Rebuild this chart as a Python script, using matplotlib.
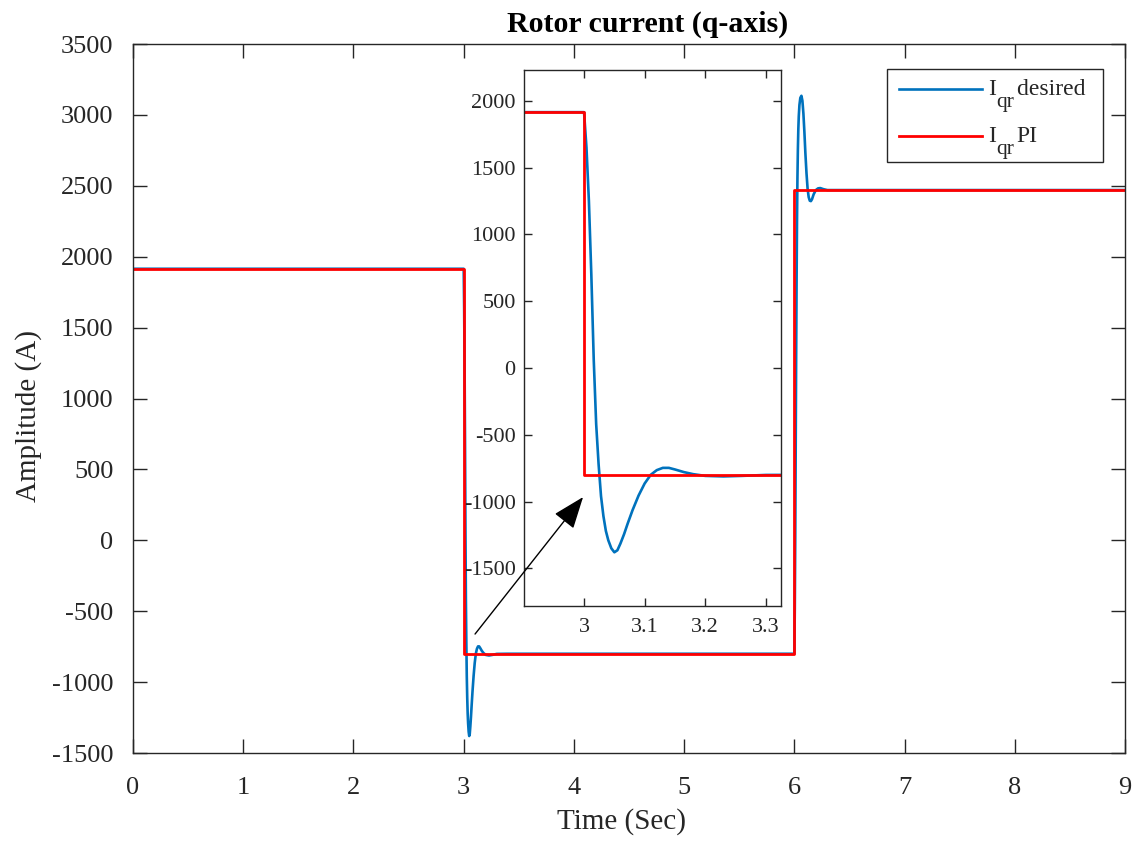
import matplotlib
matplotlib.use('Agg')
import matplotlib.pyplot as plt
from matplotlib.transforms import IdentityTransform
import numpy as np

plt.rcParams['font.family'] = ['Liberation Serif', 'DejaVu Serif']
plt.rcParams['axes.unicode_minus'] = False

# reference (PI) current : steps at 3 s and 6 s
t_pi = [0, 3.0, 3.0, 6.0, 6.0, 9.0]
i_pi = [1915, 1915, -800, -800, 2470, 2470]

# desired current (transients at 3 s and 6 s)
t_des = [0, 3.000, 3.004, 3.008, 3.012, 3.016, 3.020, 3.024, 3.028, 3.032,
         3.036, 3.040, 3.045, 3.050, 3.055, 3.060, 3.066, 3.072, 3.080,
         3.090, 3.100, 3.110, 3.120, 3.130, 3.140, 3.150, 3.165, 3.180,
         3.200, 3.230, 3.260, 3.300, 3.400,
         6.000, 6.004, 6.008, 6.012, 6.016, 6.020, 6.024, 6.028, 6.032,
         6.036, 6.040, 6.046, 6.054, 6.064, 6.073, 6.082, 6.091, 6.100,
         6.110, 6.120, 6.130, 6.140, 6.150, 6.160, 6.175, 6.195, 6.215,
         6.235, 6.265, 6.300, 9.000]
i_des = [1915, 1915, 1650, 1250, 700, 60, -420, -720, -960, -1110,
         -1220, -1290, -1350, -1380, -1365, -1315, -1245, -1165, -1065,
         -955, -865, -800, -765, -748, -748, -760, -780, -795,
         -808, -812, -808, -801, -800,
         -800, -480, 0, 620, 1250, 1800, 2250, 2560, 2760,
         2900, 2990, 3070, 3120, 3135, 3100, 3010, 2880, 2730,
         2590, 2480, 2420, 2395, 2392, 2405, 2440, 2470, 2482,
         2484, 2476, 2470, 2470]

# legend labels: main letter, subscript, rest
leg_main = ['I', 'I']
leg_sub = ['qr', 'qr']
leg_rest = ['desired', 'PI']

blue = '#0072BD'
red = '#FF0000'
edge = '#262626'

fig = plt.figure(figsize=(11.38, 8.48), dpi=100)
ax = fig.add_axes([0.1169, 0.1120, 0.8717, 0.8361])

ax.plot(t_des, i_des, color=blue, lw=1.9, label=leg_rest[0] + ' ')
ax.plot(t_pi, i_pi, color=red, lw=2.0, label=leg_rest[1])

ax.set_xlim(0, 9)
ax.set_ylim(-1500, 3500)
ax.set_xticks(np.arange(0, 10, 1))
ax.set_yticks(np.arange(-1500, 3501, 500))
ax.tick_params(direction='in', length=10, width=1, top=True, right=True,
               labelsize=19, colors=edge, pad=17)
ax.tick_params(axis='y', pad=14)
for s in ax.spines.values():
    s.set_color(edge)
    s.set_linewidth(1)

ax.set_title('Rotor current (q-axis)', fontsize=21.5, fontweight='bold', pad=9, x=0.519)
ax.set_xlabel('Time (Sec)', fontsize=21, color=edge)
ax.set_ylabel('Amplitude (A)', fontsize=21, color=edge)
ax.xaxis.set_label_coords(0.492, -0.078)
ax.yaxis.set_label_coords(-0.092, 0.475)

leg = ax.legend(loc='upper right', bbox_to_anchor=(0.9778, 0.9648), fontsize=17,
                frameon=True, fancybox=False, edgecolor=edge, framealpha=1,
                handlelength=3.5, handletextpad=1.46, borderpad=0.51,
                labelspacing=1.08, borderaxespad=0)
leg.get_frame().set_linewidth(1)
for t in leg.get_texts():
    t.set_color(edge)
    t.set_y(3.0)

# zoomed view of the 3 s transient
axin = fig.add_axes([0.4605, 0.2854, 0.2258, 0.6321])
axin.plot(t_des, i_des, color=blue, lw=1.9)
axin.plot(t_pi, i_pi, color=red, lw=2.0)
axin.set_xlim(2.901, 3.325)
axin.set_ylim(-1782, 2231)
axin.set_xticks([3.0, 3.1, 3.2, 3.3])
axin.set_xticklabels(['3', '3.1', '3.2', '3.3'])
axin.set_yticks(np.arange(-1500, 2001, 500))
axin.tick_params(direction='in', length=6, width=1, top=True, right=True,
                 labelsize=16, colors=edge, pad=9)
axin.tick_params(axis='y', pad=6)
for s in axin.spines.values():
    s.set_color(edge)
    s.set_linewidth(1)

axin.annotate('', xy=(4.083, 305), xycoords=ax.transData,
              xytext=(3.103, -661), textcoords=ax.transData,
              arrowprops=dict(arrowstyle='-|>,head_length=1.0,head_width=0.38',
                              mutation_scale=20, lw=1.0, color='k',
                              shrinkA=0, shrinkB=0),
              annotation_clip=False)

# "I" with a full-size, dropped "qr" in front of each legend entry
fig.canvas.draw()
r = fig.canvas.get_renderer()
for t, m, s in zip(leg.get_texts(), leg_main, leg_sub):
    bb = t.get_window_extent(r)
    ts = fig.text(bb.x0 - 2, bb.y0 - 12, s, fontsize=15.5, color=edge,
                  ha='right', va='bottom', transform=IdentityTransform())
    x = ts.get_window_extent(r).x0 - 1
    fig.text(x, bb.y0, m, fontsize=17, color=edge, ha='right', va='bottom',
             transform=IdentityTransform())

fig.savefig('out.png', dpi=100)
